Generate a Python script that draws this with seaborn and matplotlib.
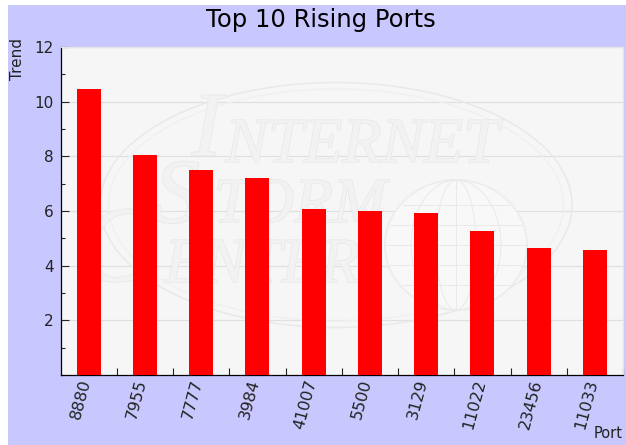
import numpy as np
import pandas as pd
import seaborn as sns
import matplotlib
matplotlib.use('Agg')
import matplotlib.pyplot as plt
from matplotlib.patches import Ellipse, Rectangle
from matplotlib.lines import Line2D
from matplotlib.ticker import MultipleLocator, FixedLocator
from matplotlib.transforms import ScaledTranslation
import matplotlib.patheffects as pe

ports = ['8880', '7955', '7777', '3984', '41007', '5500', '3129', '11022', '23456', '11033']
trend = [10.48, 8.06, 7.51, 7.19, 6.09, 5.99, 5.93, 5.28, 4.63, 4.58]

W, H = 626, 445
sns.set_theme(style='ticks')
plt.rcParams['font.family'] = ['DejaVu Sans']

df = pd.DataFrame({'Port': ports, 'Trend': trend})

def px(x, y):
    return x / W, 1 - y / H

fig = plt.figure(figsize=(W / 100, H / 100), dpi=100, facecolor='white')
# lavender panel, white strip left and top
fig.patches.append(Rectangle((8 / W, 0), 1 - 8 / W, 1 - 5 / H, transform=fig.transFigure,
                             facecolor='#c8c8ff', edgecolor='none', zorder=-5))
ax = fig.add_axes([60.5 / W, 1 - 375 / H, (623 - 60.5) / W, (375 - 47) / H], facecolor='#f6f6f6')

sns.barplot(data=df, x='Port', y='Trend', color='#ff0000', saturation=1, width=0.43,
            linewidth=0, ax=ax, zorder=3)

ax.set_xlim(-0.5, 9.5)
ax.set_ylim(0, 12)
ax.set_yticks([2, 4, 6, 8, 10, 12])
ax.yaxis.set_minor_locator(MultipleLocator(1))
ax.xaxis.set_minor_locator(FixedLocator(np.arange(0.5, 10, 1)))
ax.grid(axis='y', which='major', color='#e0e0e0', lw=0.9, zorder=2)
ax.set_axisbelow(True)

# ticks point inwards, labels sit on the categories
ax.tick_params(axis='x', which='major', length=0, pad=2, labelsize=11.5, labelrotation=75, labelcolor='#222222')
ax.tick_params(axis='x', which='minor', direction='in', length=5, width=0.8, color='#222222')
ax.tick_params(axis='y', which='major', direction='in', length=6, width=0.8, pad=5, labelsize=11, labelcolor='#222222')
ax.tick_params(axis='y', which='minor', direction='in', length=3, width=0.8)
shift = ScaledTranslation(-8 / 100, 0, fig.dpi_scale_trans)
for t in ax.get_xticklabels():
    t.set_ha('center')
    t.set_va('top')
    t.set_transform(t.get_transform() + shift)

for s in ['left', 'bottom']:
    ax.spines[s].set_color('black')
    ax.spines[s].set_linewidth(0.9)
for s in ['top', 'right']:
    ax.spines[s].set_color('#e4e4e4')
    ax.spines[s].set_linewidth(0.9)

ax.set_xlabel('')
ax.set_ylabel('')
fig.text(*px(17, 58.5), 'Trend', rotation=90, ha='center', va='center', fontsize=11, color='#222222')
fig.text(*px(623, 433), 'Port', ha='right', va='center', fontsize=10.5, color='#222222')
fig.text(*px(321, 20), 'Top 10 Rising Ports', ha='center', va='center', fontsize=17.5, color='black')

# faint logo behind the bars
mark = '#e9e9e9'
fill = '#f2f2f2'
tr = fig.transFigure
ax.add_artist(Ellipse(px(336, 205), 472 / W, 245 / H, transform=tr, fill=False, edgecolor=mark, lw=1.1, zorder=1))
ax.add_artist(Ellipse(px(336, 205), 455 / W, 232 / H, transform=tr, fill=False, edgecolor='#f0f0f0', lw=1, zorder=1))

gx, gy, gw, gh = 456, 245, 142, 130
globe = Ellipse(px(gx, gy), gw / W, gh / H, transform=tr, facecolor='#f8f8f8', edgecolor='#ececec', lw=1.2, zorder=1)
ax.add_artist(globe)
for mw in [40, 90]:
    ax.add_artist(Ellipse(px(gx, gy), mw / W, gh / H, transform=tr, fill=False, edgecolor=mark, lw=0.7, zorder=1))
ax.add_artist(Line2D(*zip(px(gx, gy - gh / 2), px(gx, gy + gh / 2)), transform=tr, color=mark, lw=0.7, zorder=1))
for dy, half in [(-40, 53), (-20, 66), (0, 71), (20, 66), (40, 53)]:
    ax.add_artist(Line2D(*zip(px(gx - half, gy + dy), px(gx + half, gy + dy)), transform=tr, color=mark, lw=0.7, zorder=1))

# each word has one big initial and smaller capitals
for txt, x, y, sz in [('I', 207, 133, 66), ('NTERNET', 362, 147, 46),
                      ('S', 177, 200, 66), ('TORM', 300, 207, 46),
                      ('C', 115, 255, 78), ('ENTER', 262, 267, 46)]:
    t = ax.text(*px(x, y), txt, family='Liberation Serif', style='italic', fontsize=sz, ha='center', va='center',
                color=fill, zorder=1, transform=tr)
    t.set_path_effects([pe.withStroke(linewidth=1.2, foreground=mark)])

fig.savefig('out.png', dpi=100, facecolor=fig.get_facecolor())
